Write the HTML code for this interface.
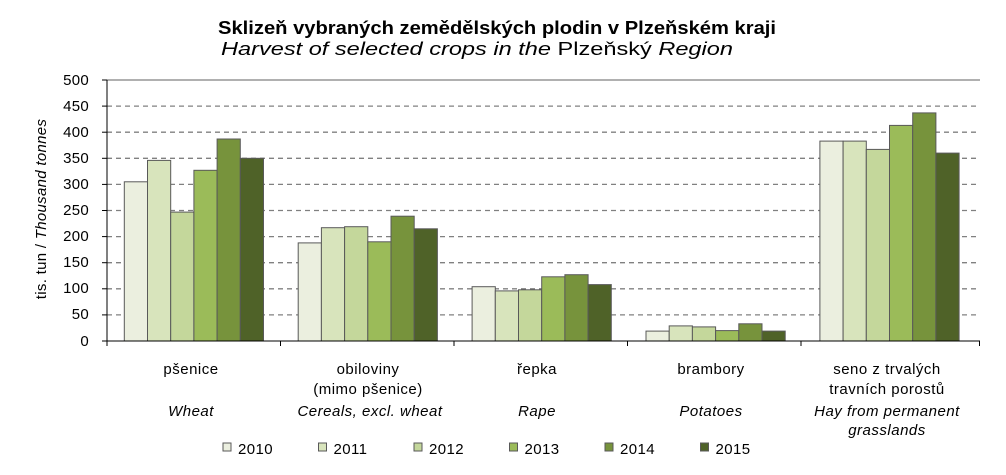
<!DOCTYPE html>
<html><head><meta charset="utf-8"><style>body{margin:0;background:#fff}svg{display:block;font-family:"Liberation Sans",sans-serif}</style></head><body>
<svg width="1006" height="475" viewBox="0 0 1006 475">
<text x="497" y="34" text-anchor="middle" font-size="18" font-weight="bold" textLength="558" lengthAdjust="spacingAndGlyphs">Sklizeň vybraných zemědělských plodin v Plzeňském kraji</text>
<text x="477" y="55" text-anchor="middle" font-size="18" textLength="512" lengthAdjust="spacingAndGlyphs"><tspan font-style="italic">Harvest of selected crops in the </tspan>Plzeňský<tspan font-style="italic"> Region</tspan></text>
<g stroke="#808080" stroke-width="1.3" stroke-dasharray="5,4">
<line x1="107" x2="980" y1="106.1" y2="106.1"/><line x1="107" x2="980" y1="132.2" y2="132.2"/><line x1="107" x2="980" y1="158.3" y2="158.3"/><line x1="107" x2="980" y1="184.4" y2="184.4"/><line x1="107" x2="980" y1="210.5" y2="210.5"/><line x1="107" x2="980" y1="236.6" y2="236.6"/><line x1="107" x2="980" y1="262.7" y2="262.7"/><line x1="107" x2="980" y1="288.8" y2="288.8"/><line x1="107" x2="980" y1="314.9" y2="314.9"/>
</g>
<line x1="107" x2="980" y1="80" y2="80" stroke="#808080" stroke-width="1.3"/>
<g transform="translate(0,341) scale(1,-1)" stroke="#595959" stroke-width="1">
<rect x="124.3" y="0" width="23.2" height="159.2" fill="#EBEFDF"/>
<rect x="147.5" y="0" width="23.2" height="180.6" fill="#D8E4BC"/>
<rect x="170.7" y="0" width="23.2" height="128.9" fill="#C4D79B"/>
<rect x="193.9" y="0" width="23.2" height="170.7" fill="#9BBB59"/>
<rect x="217.1" y="0" width="23.2" height="202.0" fill="#77933C"/>
<rect x="240.3" y="0" width="23.2" height="182.7" fill="#4F6228"/>
<rect x="298.2" y="0" width="23.2" height="98.1" fill="#EBEFDF"/>
<rect x="321.4" y="0" width="23.2" height="113.3" fill="#D8E4BC"/>
<rect x="344.6" y="0" width="23.2" height="114.3" fill="#C4D79B"/>
<rect x="367.8" y="0" width="23.2" height="99.2" fill="#9BBB59"/>
<rect x="391.0" y="0" width="23.2" height="124.8" fill="#77933C"/>
<rect x="414.2" y="0" width="23.2" height="112.2" fill="#4F6228"/>
<rect x="472.1" y="0" width="23.2" height="54.3" fill="#EBEFDF"/>
<rect x="495.3" y="0" width="23.2" height="50.1" fill="#D8E4BC"/>
<rect x="518.5" y="0" width="23.2" height="51.2" fill="#C4D79B"/>
<rect x="541.7" y="0" width="23.2" height="64.2" fill="#9BBB59"/>
<rect x="564.9" y="0" width="23.2" height="66.3" fill="#77933C"/>
<rect x="588.1" y="0" width="23.2" height="56.4" fill="#4F6228"/>
<rect x="646.0" y="0" width="23.2" height="9.9" fill="#EBEFDF"/>
<rect x="669.2" y="0" width="23.2" height="15.1" fill="#D8E4BC"/>
<rect x="692.4" y="0" width="23.2" height="14.1" fill="#C4D79B"/>
<rect x="715.6" y="0" width="23.2" height="10.4" fill="#9BBB59"/>
<rect x="738.8" y="0" width="23.2" height="17.2" fill="#77933C"/>
<rect x="762.0" y="0" width="23.2" height="9.9" fill="#4F6228"/>
<rect x="819.9" y="0" width="23.2" height="199.9" fill="#EBEFDF"/>
<rect x="843.1" y="0" width="23.2" height="199.9" fill="#D8E4BC"/>
<rect x="866.3" y="0" width="23.2" height="191.6" fill="#C4D79B"/>
<rect x="889.5" y="0" width="23.2" height="215.6" fill="#9BBB59"/>
<rect x="912.7" y="0" width="23.2" height="228.1" fill="#77933C"/>
<rect x="935.9" y="0" width="23.2" height="187.9" fill="#4F6228"/>
</g>
<line x1="107" x2="107" y1="80" y2="346" stroke="#000"/>
<line x1="102" x2="980" y1="341" y2="341" stroke="#000"/>
<g stroke="#000">
<line x1="102" x2="107" y1="80" y2="80"/><line x1="102" x2="107" y1="106.1" y2="106.1"/><line x1="102" x2="107" y1="132.2" y2="132.2"/><line x1="102" x2="107" y1="158.3" y2="158.3"/><line x1="102" x2="107" y1="184.4" y2="184.4"/><line x1="102" x2="107" y1="210.5" y2="210.5"/><line x1="102" x2="107" y1="236.6" y2="236.6"/><line x1="102" x2="107" y1="262.7" y2="262.7"/><line x1="102" x2="107" y1="288.8" y2="288.8"/><line x1="102" x2="107" y1="314.9" y2="314.9"/>
<line x1="280.5" x2="280.5" y1="341" y2="346"/><line x1="454" x2="454" y1="341" y2="346"/><line x1="627.5" x2="627.5" y1="341" y2="346"/><line x1="801" x2="801" y1="341" y2="346"/><line x1="979.5" x2="979.5" y1="341" y2="346"/>
</g>
<g font-size="15" text-anchor="end" letter-spacing="0.3">
<text x="89" y="85">500</text><text x="89" y="111">450</text><text x="89" y="137">400</text><text x="89" y="163">350</text><text x="89" y="189">300</text><text x="89" y="215">250</text><text x="89" y="241">200</text><text x="89" y="267">150</text><text x="89" y="293">100</text><text x="89" y="319">50</text><text x="89" y="346">0</text>
</g>
<text transform="translate(46,209) rotate(-90)" text-anchor="middle" font-size="15" letter-spacing="0.3">tis. tun / <tspan font-style="italic">Thousand tonnes</tspan></text>
<g font-size="15" text-anchor="middle" letter-spacing="0.5">
<text x="191" y="374">pšenice</text><text x="191" y="416" font-style="italic">Wheat</text>
<text x="368" y="374">obiloviny</text><text x="368" y="394">(mimo pšenice)</text><text x="370" y="416" font-style="italic">Cereals, excl. wheat</text>
<text x="537" y="374">řepka</text><text x="537" y="416" font-style="italic">Rape</text>
<text x="711" y="374">brambory</text><text x="711" y="416" font-style="italic">Potatoes</text>
<text x="887" y="374">seno z trvalých</text><text x="887" y="394">travních porostů</text><text x="887" y="416" font-style="italic">Hay from permanent</text><text x="887" y="435" font-style="italic">grasslands</text>
</g>
<g font-size="15" stroke-width="1" letter-spacing="0.4">
<rect x="223" y="443" width="8" height="8" fill="#EBEFDF" stroke="#595959"/><text x="238" y="454">2010</text>
<rect x="318.5" y="443" width="8" height="8" fill="#D8E4BC" stroke="#595959"/><text x="333.5" y="454">2011</text>
<rect x="414" y="443" width="8" height="8" fill="#C4D79B" stroke="#595959"/><text x="429" y="454">2012</text>
<rect x="509.5" y="443" width="8" height="8" fill="#9BBB59" stroke="#595959"/><text x="524.5" y="454">2013</text>
<rect x="605" y="443" width="8" height="8" fill="#77933C" stroke="#595959"/><text x="620" y="454">2014</text>
<rect x="700.5" y="443" width="8" height="8" fill="#4F6228" stroke="#595959"/><text x="715.5" y="454">2015</text>
</g>
</svg>
</body></html>
